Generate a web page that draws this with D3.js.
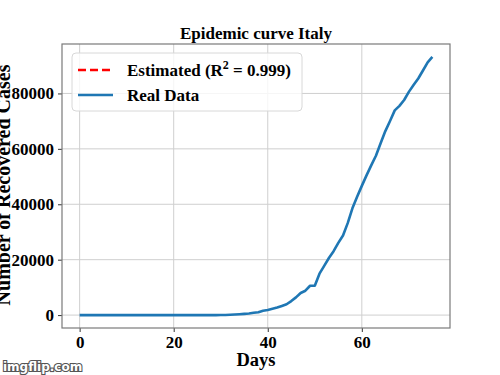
<!DOCTYPE html>
<html>
<head>
<meta charset="utf-8">
<script src="https://cdn.jsdelivr.net/npm/d3@7"></script>
<style>
  html, body { margin: 0; padding: 0; background: #fff; }
  svg { display: block; }
</style>
</head>
<body>
<div id="chart"></div>
<script>
// days since start of series
const days = d3.range(0, 76);
// real data, one value per day
const realData = [
  0, 0, 0, 0, 0, 0, 0, 0, 0,
  2, 2, 2, 2, 2, 2, 2,
  3, 3, 3, 3, 3, 3, 3, 3, 3, 3, 3, 3, 3, 3,
  19, 59, 150, 221, 311, 438, 593, 821, 1053,
  1577, 1835, 2263, 2706, 3296, 3916, 5061, 6387, 7985, 8794,
  10590, 10590, 14955, 17750, 20603, 23073, 26062, 28710, 33190, 38549,
  42681, 46638, 50418, 54030, 57521, 62013, 66414, 70065, 73880, 75528,
  77635, 80572, 83049, 85388, 88274, 91246, 93187
];
const xTicks = [0, 20, 40, 60];
const yTicks = [0, 20000, 40000, 60000, 80000];

const width = 500, height = 375;
const margin = { top: 44, right: 50, bottom: 47, left: 62 };
const innerW = width - margin.left - margin.right;
const innerH = height - margin.top - margin.bottom;
const serif = "'Liberation Serif', 'Times New Roman', serif";

const svg = d3.select("#chart").append("svg")
  .attr("width", width)
  .attr("height", height)
  .attr("viewBox", `0 0 ${width} ${height}`);

const root = svg.append("g").attr("transform", `translate(${margin.left}, ${margin.top})`);

// matplotlib style 5% padding
const xPad = (d3.max(days) - d3.min(days)) * 0.05;
const yMax = d3.max(realData);
const yPad = yMax * 0.05;
const x = d3.scaleLinear().domain([d3.min(days) - xPad, d3.max(days) + xPad]).range([0, innerW]);
const y = d3.scaleLinear().domain([-yPad, yMax + yPad]).range([innerH, 0]);

// grid
root.append("g")
  .selectAll("line").data(xTicks).join("line")
  .attr("x1", (d) => x(d)).attr("x2", (d) => x(d))
  .attr("y1", 0).attr("y2", innerH)
  .attr("stroke", "#cfcfcf").attr("stroke-width", 1);
root.append("g")
  .selectAll("line").data(yTicks).join("line")
  .attr("x1", 0).attr("x2", innerW)
  .attr("y1", (d) => y(d)).attr("y2", (d) => y(d))
  .attr("stroke", "#cfcfcf").attr("stroke-width", 1);

// axes
const styleAxis = (g) => {
  g.selectAll(".domain").remove();
  g.selectAll("line").attr("stroke", "#333");
  g.selectAll("text")
    .attr("fill", "#000")
    .attr("font-size", "17")
    .attr("font-weight", "bold")
    .attr("font-family", serif);
};
root.append("g")
  .attr("transform", `translate(0, ${innerH})`)
  .call(d3.axisBottom(x).tickValues(xTicks).tickSize(4).tickPadding(4).tickFormat(d3.format("d")))
  .call(styleAxis);
root.append("g")
  .call(d3.axisLeft(y).tickValues(yTicks).tickSize(4).tickPadding(4).tickFormat(d3.format("d")))
  .call(styleAxis);

// real data line
const line = d3.line()
  .x((d, i) => x(days[i]))
  .y((d) => y(d));
root.append("path")
  .datum(realData)
  .attr("fill", "none")
  .attr("stroke", "#1f77b4")
  .attr("stroke-width", 2.6)
  .attr("stroke-linejoin", "round")
  .attr("d", line);

// frame
root.append("rect")
  .attr("width", innerW).attr("height", innerH)
  .attr("fill", "none")
  .attr("stroke", "#7a7a7a")
  .attr("stroke-width", 1.2);

// legend
const legend = root.append("g").attr("transform", "translate(10, 9)");
legend.append("rect")
  .attr("width", 230).attr("height", 58)
  .attr("rx", 4)
  .attr("fill", "#fff").attr("fill-opacity", 0.8)
  .attr("stroke", "#d8d8d8");
legend.append("line")
  .attr("x1", 6).attr("x2", 41).attr("y1", 17).attr("y2", 17)
  .attr("stroke", "#ff0000").attr("stroke-width", 2.6).attr("stroke-dasharray", "8 4");
legend.append("line")
  .attr("x1", 6).attr("x2", 41).attr("y1", 42).attr("y2", 42)
  .attr("stroke", "#1f77b4").attr("stroke-width", 2.6);
const est = legend.append("text")
  .attr("x", 55).attr("y", 23)
  .attr("font-family", serif).attr("font-weight", "bold").attr("font-size", "17");
est.append("tspan").text("Estimated (R");
est.append("tspan").attr("font-size", "12").attr("dy", -7).text("2");
est.append("tspan").attr("dy", 7).text(" = 0.999)");
legend.append("text")
  .attr("x", 55).attr("y", 48)
  .attr("font-family", serif).attr("font-weight", "bold").attr("font-size", "17")
  .text("Real Data");

// title and axis labels
svg.append("text")
  .attr("x", margin.left + innerW / 2).attr("y", 39)
  .attr("text-anchor", "middle")
  .attr("font-family", serif).attr("font-weight", "bold").attr("font-size", "17")
  .text("Epidemic curve Italy");
svg.append("text")
  .attr("x", margin.left + innerW / 2).attr("y", 366)
  .attr("text-anchor", "middle")
  .attr("font-family", serif).attr("font-weight", "bold").attr("font-size", "18.5")
  .text("Days");
svg.append("text")
  .attr("transform", `translate(10, ${margin.top + innerH / 2 - 1}) rotate(-90)`)
  .attr("text-anchor", "middle")
  .attr("font-family", serif).attr("font-weight", "bold").attr("font-size", "20")
  .text("Number of Recovered Cases");

// watermark
svg.append("text")
  .attr("x", 3).attr("y", 371)
  .attr("font-family", "'DejaVu Sans', sans-serif").attr("font-weight", "bold").attr("font-size", "12")
  .attr("fill", "#fff").attr("stroke", "#555").attr("stroke-width", 2.2).attr("paint-order", "stroke")
  .text("imgflip.com");
</script>
</body>
</html>
